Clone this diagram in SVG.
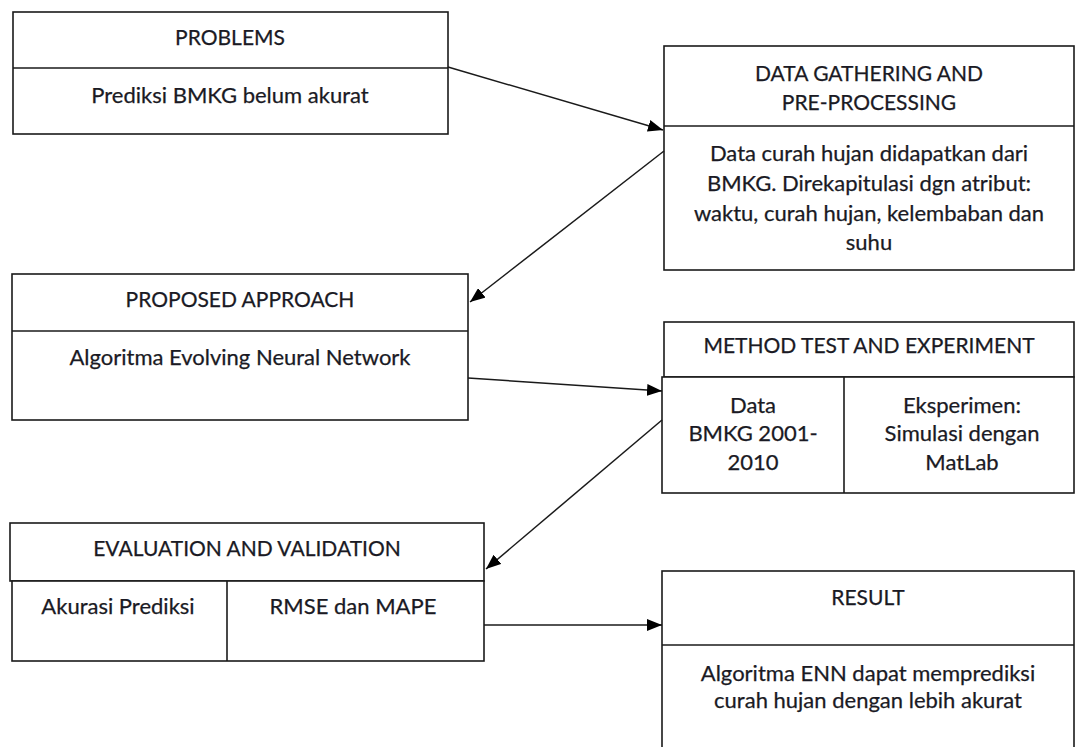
<svg xmlns="http://www.w3.org/2000/svg" width="1075" height="747" viewBox="0 0 1075 747">
  <style>
    .box { fill: #ffffff; stroke: #1a1a1a; stroke-width: 1.6; }
    .div { stroke: #1a1a1a; stroke-width: 1.6; fill: none; }
    .lbl { font-family: Lato, "Open Sans", "Liberation Sans", sans-serif; font-size: 22px; fill: #1a1a24; stroke: #1a1a24; stroke-width: 0.25; text-anchor: middle; }
    .ttl { font-size: 21px; }
    .conn { stroke: #1a1a1a; stroke-width: 1.5; fill: none; marker-end: url(#arrow); }
  </style>
  <defs>
    <marker id="arrow" markerUnits="userSpaceOnUse" markerWidth="16" markerHeight="12" refX="15" refY="6" orient="auto">
      <path d="M0,0 L15,6 L0,12 z" fill="#000000"/>
    </marker>
  </defs>
  <rect width="1075" height="747" fill="#ffffff"/>

  <g id="problems">
    <rect class="box" x="13" y="12" width="435" height="122"/>
    <line class="div" x1="13" y1="68" x2="448" y2="68"/>
    <text class="lbl ttl" x="230" y="45">PROBLEMS</text>
    <text class="lbl" x="230" y="103">Prediksi BMKG belum akurat</text>
  </g>

  <g id="data-gathering">
    <rect class="box" x="664" y="46" width="410" height="224"/>
    <line class="div" x1="664" y1="126" x2="1074" y2="126"/>
    <text class="lbl ttl" x="869" y="81">DATA GATHERING AND</text>
    <text class="lbl ttl" x="869" y="110">PRE-PROCESSING</text>
    <text class="lbl" x="869" y="161">Data curah hujan didapatkan dari</text>
    <text class="lbl" x="869" y="191">BMKG. Direkapitulasi dgn atribut:</text>
    <text class="lbl" x="869" y="221">waktu, curah hujan, kelembaban dan</text>
    <text class="lbl" x="869" y="250">suhu</text>
  </g>

  <g id="proposed-approach">
    <rect class="box" x="12" y="274" width="456" height="146"/>
    <line class="div" x1="12" y1="331" x2="468" y2="331"/>
    <text class="lbl ttl" x="240" y="307">PROPOSED APPROACH</text>
    <text class="lbl" x="240" y="365">Algoritma Evolving Neural Network</text>
  </g>

  <g id="method-test">
    <rect class="box" x="664" y="322" width="410" height="55"/>
    <rect class="box" x="662" y="377" width="412" height="116"/>
    <line class="div" x1="844" y1="377" x2="844" y2="493"/>
    <text class="lbl ttl" x="869" y="353">METHOD TEST AND EXPERIMENT</text>
    <text class="lbl" x="753" y="413">Data</text>
    <text class="lbl" x="753" y="441">BMKG 2001-</text>
    <text class="lbl" x="753" y="470">2010</text>
    <text class="lbl" x="962" y="413">Eksperimen:</text>
    <text class="lbl" x="962" y="441">Simulasi dengan</text>
    <text class="lbl" x="962" y="470">MatLab</text>
  </g>

  <g id="evaluation">
    <rect class="box" x="10" y="523" width="474" height="58"/>
    <rect class="box" x="12" y="581" width="472" height="80"/>
    <line class="div" x1="227" y1="581" x2="227" y2="661"/>
    <text class="lbl ttl" x="247" y="556">EVALUATION AND VALIDATION</text>
    <text class="lbl" x="118" y="614">Akurasi Prediksi</text>
    <text class="lbl" x="353" y="614">RMSE dan MAPE</text>
  </g>

  <g id="result">
    <rect class="box" x="662" y="571" width="412" height="190"/>
    <line class="div" x1="662" y1="645" x2="1074" y2="645"/>
    <text class="lbl ttl" x="868" y="605">RESULT</text>
    <text class="lbl" x="868" y="681">Algoritma ENN dapat memprediksi</text>
    <text class="lbl" x="868" y="708">curah hujan dengan lebih akurat</text>
  </g>

  <g id="connectors">
    <line class="conn" x1="448" y1="67" x2="663" y2="130"/>
    <line class="conn" x1="664" y1="151" x2="470" y2="302"/>
    <line class="conn" x1="468" y1="378" x2="662" y2="391"/>
    <line class="conn" x1="662" y1="420" x2="486" y2="569"/>
    <line class="conn" x1="484" y1="625" x2="662" y2="625"/>
  </g>
</svg>
